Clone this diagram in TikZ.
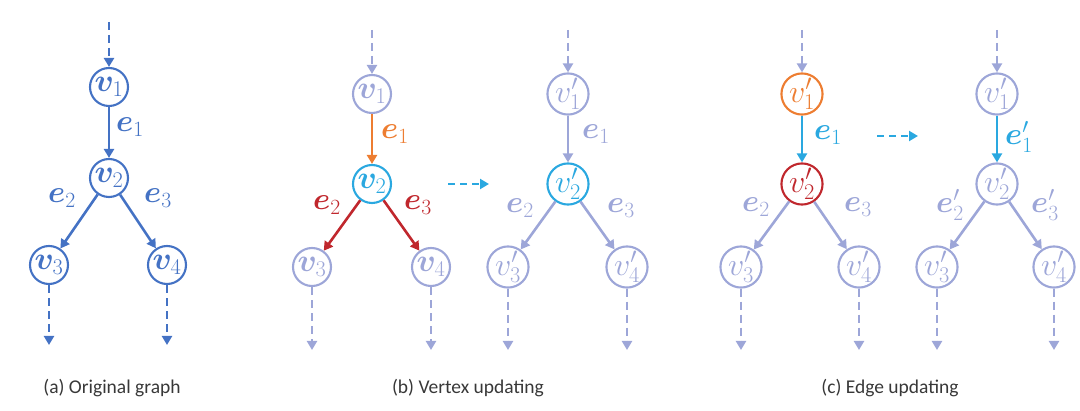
\RequirePackage{fix-cm}
\documentclass[tikz,border=0pt]{standalone}
\usepackage{fontspec}
\setmainfont{Carlito}
\usepackage{bm}
\usetikzlibrary{arrows.meta}
\definecolor{dblue}{HTML}{4472C4}
\definecolor{lav}{HTML}{9DA6D8}
\definecolor{cyanb}{HTML}{2AA8E0}
\definecolor{orng}{HTML}{ED7D31}
\definecolor{redd}{HTML}{C0272D}
\tikzset{
  vtx/.style={circle, draw, line width=2.1pt, fill=white, minimum size=38pt, inner sep=0pt, font=\fontsize{32}{34}\selectfont},
  edg/.style={line width=2.6pt, -{Triangle[length=9pt,width=10pt]}},
  dsh/.style={line width=2.6pt, dash pattern=on 8pt off 5pt, -{Triangle[length=9pt,width=10pt]}},
  lbl/.style={inner sep=0pt, font=\fontsize{31}{33}\selectfont},
  captxt/.style={inner sep=0pt, font=\fontsize{19.5}{23}\selectfont, text=black!78},
}
\begin{document}
\begin{tikzpicture}[x=1pt,y=-1pt]
\useasboundingbox (0,0) rectangle (1080,411);
% ---------- (a)
\begin{scope}[dblue]
\node[vtx, text=dblue] (a1) at (109,87) {$\bm{v}_1$};
\node[vtx, text=dblue] (a2) at (109,178) {$\bm{v}_2$};
\node[vtx, text=dblue] (a3) at (49,265) {$\bm{v}_3$};
\node[vtx, text=dblue] (a4) at (167,265) {$\bm{v}_4$};
\coordinate (at) at (109,22);
\coordinate (ab3) at (49,345);
\coordinate (ab4) at (167,345);
\draw[dsh] (at) -- (a1);
\draw[edg] (a1) -- (a2);
\draw[edg] (a2) -- (a3);
\draw[edg] (a2) -- (a4);
\draw[dsh] (a3) -- (ab3);
\draw[dsh] (a4) -- (ab4);
\node[lbl, text=dblue] (ae1) at (130,127) {$\bm{e}_1$};
\node[lbl, text=dblue] (ae2) at (62,198) {$\bm{e}_2$};
\node[lbl, text=dblue] (ae3) at (158,198) {$\bm{e}_3$};
\end{scope}
\node[captxt] (capa) at (112,388) {(a) Original graph};
% ---------- (b) left
\node[vtx, draw=lav, text=lav] (b1) at (372,94) {$\bm{v}_1$};
\node[vtx, draw=cyanb, text=cyanb] (b2) at (372,184) {$\bm{v}_2$};
\node[vtx, draw=lav, text=lav] (b3) at (312,267) {$\bm{v}_3$};
\node[vtx, draw=lav, text=lav] (b4) at (431,267) {$\bm{v}_4$};
\coordinate (bt) at (372,30);
\coordinate (bb3) at (312,350);
\coordinate (bb4) at (431,350);
\draw[dsh, lav] (bt) -- (b1);
\draw[edg, orng] (b1) -- (b2);
\draw[edg, redd] (b2) -- (b3);
\draw[edg, redd] (b2) -- (b4);
\draw[dsh, lav] (b3) -- (bb3);
\draw[dsh, lav] (b4) -- (bb4);
\node[lbl, text=orng] (be1) at (395,134) {$\bm{e}_1$};
\node[lbl, text=redd] (be2) at (327,205) {$\bm{e}_2$};
\node[lbl, text=redd] (be3) at (418,205) {$\bm{e}_3$};
% arrow
\coordinate (bA) at (448,184);
\coordinate (bB) at (489,184);
\draw[dsh, cyanb, dash pattern=on 7pt off 5pt] (bA) -- (bB);
% ---------- (b) right
\node[vtx, draw=lav, text=lav] (c1) at (568,94) {$v'_1$};
\node[vtx, draw=cyanb, text=cyanb] (c2) at (568,184) {$v'_2$};
\node[vtx, draw=lav, text=lav] (c3) at (508,267) {$v'_3$};
\node[vtx, draw=lav, text=lav] (c4) at (627,267) {$v'_4$};
\coordinate (ct) at (568,30);
\coordinate (cb3) at (508,350);
\coordinate (cb4) at (627,350);
\draw[dsh, lav] (ct) -- (c1);
\draw[edg, lav] (c1) -- (c2);
\draw[edg, lav] (c2) -- (c3);
\draw[edg, lav] (c2) -- (c4);
\draw[dsh, lav] (c3) -- (cb3);
\draw[dsh, lav] (c4) -- (cb4);
\node[lbl, text=lav] (ce1) at (596,134) {$\bm{e}_1$};
\node[lbl, text=lav] (ce2) at (520,208) {$\bm{e}_2$};
\node[lbl, text=lav] (ce3) at (621,208) {$\bm{e}_3$};
\node[captxt] (capb) at (468,388) {(b) Vertex updating};
% ---------- (c) left
\node[vtx, draw=orng, text=orng] (d1) at (802,94) {$v'_1$};
\node[vtx, draw=redd, text=redd] (d2) at (802,184) {$v'_2$};
\node[vtx, draw=lav, text=lav] (d3) at (741,267) {$v'_3$};
\node[vtx, draw=lav, text=lav] (d4) at (859,267) {$v'_4$};
\coordinate (dt) at (802,30);
\coordinate (db3) at (741,350);
\coordinate (db4) at (859,350);
\draw[dsh, lav] (dt) -- (d1);
\draw[edg, cyanb] (d1) -- (d2);
\draw[edg, lav] (d2) -- (d3);
\draw[edg, lav] (d2) -- (d4);
\draw[dsh, lav] (d3) -- (db3);
\draw[dsh, lav] (d4) -- (db4);
\node[lbl, text=cyanb] (de1) at (828,135) {$\bm{e}_1$};
\node[lbl, text=lav] (de2) at (756,207) {$\bm{e}_2$};
\node[lbl, text=lav] (de3) at (858,207) {$\bm{e}_3$};
% arrow
\coordinate (dA) at (877,136);
\coordinate (dB) at (918,136);
\draw[dsh, cyanb, dash pattern=on 7pt off 5pt] (dA) -- (dB);
% ---------- (c) right
\node[vtx, draw=lav, text=lav] (f1) at (997,94) {$v'_1$};
\node[vtx, draw=lav, text=lav] (f2) at (997,184) {$v'_2$};
\node[vtx, draw=lav, text=lav] (f3) at (937,267) {$v'_3$};
\node[vtx, draw=lav, text=lav] (f4) at (1054,267) {$v'_4$};
\coordinate (ft) at (997,30);
\coordinate (fb3) at (937,350);
\coordinate (fb4) at (1054,350);
\draw[dsh, lav] (ft) -- (f1);
\draw[edg, cyanb] (f1) -- (f2);
\draw[edg, lav] (f2) -- (f3);
\draw[edg, lav] (f2) -- (f4);
\draw[dsh, lav] (f3) -- (fb3);
\draw[dsh, lav] (f4) -- (fb4);
\node[lbl, text=cyanb] (fe1) at (1019,137) {$\bm{e}'_1$};
\node[lbl, text=lav] (fe2) at (950,205) {$\bm{e}'_2$};
\node[lbl, text=lav] (fe3) at (1045,205) {$\bm{e}'_3$};
\node[captxt] (capc) at (890,388) {(c) Edge updating};
\end{tikzpicture}
\end{document}
